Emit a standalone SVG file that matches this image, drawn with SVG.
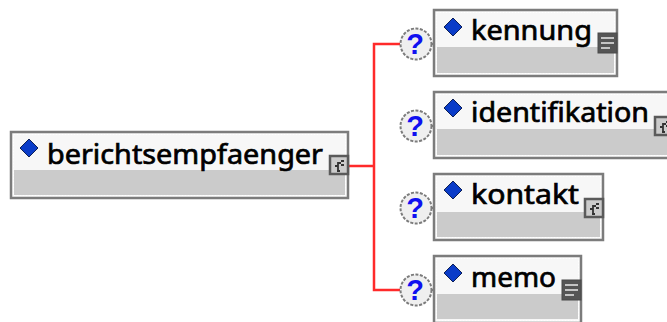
<svg xmlns="http://www.w3.org/2000/svg" width="667" height="322" viewBox="0 0 667 322">
<style>
.box{fill:#f7f7f7;stroke:#7c7c7c;stroke-width:2.500}
.band{fill:#cbcbcb}
.in{fill:none;stroke:#fff;stroke-width:1;stroke-dasharray:2 1}
.dia{fill:#0a3cc8;stroke:#0c1f55;stroke-width:1}
.lbl{font-family:"Noto Sans","DejaVu Sans",sans-serif;font-size:28px;fill:#000;stroke:#000;stroke-width:.7}
.wire{fill:none;stroke:#ff2a2a;stroke-width:2.500}
.opt{fill:#efefef;stroke:#7c7c7c;stroke-width:2;stroke-dasharray:3 1.500}
.q{font-family:"Liberation Sans",sans-serif;font-size:29px;font-weight:bold;fill:#1010f0;text-anchor:middle}
.ic{fill:#cccccc;stroke:#5a5a5a;stroke-width:2.500}
.dk{fill:#555;stroke:#4a4a4a;stroke-width:1}
.ln{stroke:#c4c4c4;stroke-width:2}
.sym{fill:none;stroke:#333;stroke-width:1.800}
.stub{stroke:#808080;stroke-width:2}
</style>
<defs>
<g id="tree"><rect class="ic" x="0" y="0" width="18" height="18"/><path class="sym" d="M7 15h3M8 15V7h3M11 5h3M8 10h-3M11 9h3"/></g>
<g id="doc"><rect class="dk" x="0" y="0" width="19" height="20"/><path class="ln" d="M3 5h13M3 10h13M3 15h9"/></g>
</defs>
<g id="connectors">
<path class="wire" d="M349 166H374M400 44H374V290H400"/>
<path class="stub" d="M431 44h3M431 126h3M431 208h3M431 290h3"/>
</g>
<g id="berichtsempfaenger">
<rect class="box" x="11" y="132" width="337" height="66"/>
<rect class="band" x="14" y="170" width="331" height="25"/>
<rect class="in" x="13.500" y="134.500" width="332" height="61"/>
<path class="dia" d="M29 139l9 9-9 9-9-9z"/>
<text class="lbl" x="47" y="164" textLength="276" lengthAdjust="spacingAndGlyphs">berichtsempfaenger</text>
<use href="#tree" x="330" y="156"/>
</g>
<g id="kennung">
<circle class="opt" cx="416" cy="44" r="15.500"/><text class="q" x="415" y="54">?</text>
<rect class="box" x="434" y="10" width="183" height="66"/>
<rect class="band" x="437" y="47" width="177" height="26"/>
<rect class="in" x="436.500" y="12.500" width="178" height="61"/>
<path class="dia" d="M453 18l9 9-9 9-9-9z"/>
<text class="lbl" x="471" y="40" textLength="121" lengthAdjust="spacingAndGlyphs">kennung</text>
<use href="#doc" x="598" y="33"/>
</g>
<g id="identifikation">
<circle class="opt" cx="416" cy="126" r="15.500"/><text class="q" x="415" y="136">?</text>
<rect class="box" x="434" y="92" width="240" height="66"/>
<rect class="band" x="437" y="129" width="234" height="26"/>
<rect class="in" x="436.500" y="94.500" width="235" height="61"/>
<path class="dia" d="M453 99l9 9-9 9-9-9z"/>
<text class="lbl" x="471" y="122" textLength="178" lengthAdjust="spacingAndGlyphs">identifikation</text>
<use href="#tree" x="655" y="117"/>
</g>
<g id="kontakt">
<circle class="opt" cx="416" cy="208" r="15.500"/><text class="q" x="415" y="218">?</text>
<rect class="box" x="434" y="174" width="169" height="66"/>
<rect class="band" x="437" y="212" width="163" height="25"/>
<rect class="in" x="436.500" y="176.500" width="164" height="61"/>
<path class="dia" d="M453 181l9 9-9 9-9-9z"/>
<text class="lbl" x="471" y="204" textLength="108" lengthAdjust="spacingAndGlyphs">kontakt</text>
<use href="#tree" x="585" y="199"/>
</g>
<g id="memo">
<circle class="opt" cx="416" cy="290" r="15.500"/><text class="q" x="415" y="300">?</text>
<rect class="box" x="434" y="256" width="147" height="67"/>
<rect class="band" x="437" y="294" width="141" height="25"/>
<rect class="in" x="436.500" y="258.500" width="142" height="62"/>
<path class="dia" d="M453 264l9 9-9 9-9-9z"/>
<text class="lbl" x="471" y="287" textLength="85" lengthAdjust="spacingAndGlyphs">memo</text>
<use href="#doc" x="562" y="280"/>
</g>
</svg>
